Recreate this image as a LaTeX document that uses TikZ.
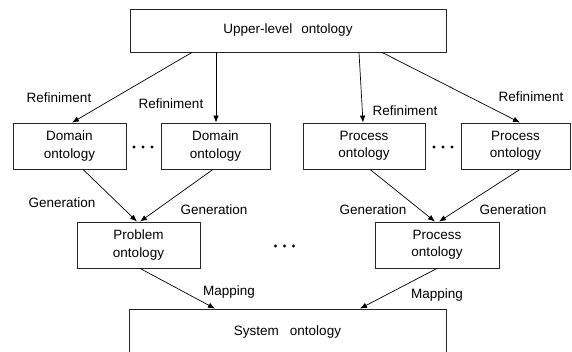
\documentclass[tikz,border=0pt]{standalone}
\usepackage{fontspec}
\setmainfont{Liberation Sans}
\usetikzlibrary{arrows.meta}
\begin{document}
\begin{tikzpicture}[x=1pt,y=-1pt,
  font=\fontsize{13.5}{17.5}\selectfont,
  box/.style={draw=black!85,line width=0.8pt,inner sep=0pt,align=center},
  conn/.style={line width=0.7pt,-{Latex[length=7pt,width=5.5pt]}},
  lbl/.style={inner sep=0pt}]
\useasboundingbox (0,0) rectangle (572,351);
\clip (0,0) rectangle (572,351);
\node[box,minimum width=316pt,minimum height=43pt] (up) at (288,30.5) {Upper-level\hspace{9pt}ontology};
\node[box,minimum width=113pt,minimum height=46pt] (d1) at (69.5,146) {Domain\\ontology};
\node[box,minimum width=109pt,minimum height=46pt] (d2) at (215.5,146) {Domain\\ontology};
\node[box,minimum width=122pt,minimum height=46pt] (p1) at (364,146) {Process\\ontology};
\node[box,minimum width=109pt,minimum height=46pt] (p2) at (515.5,146) {Process\\ontology};
\node[box,minimum width=123pt,minimum height=46pt] (prob) at (138.5,245) {Problem\\ontology};
\node[box,minimum width=124pt,minimum height=46pt] (proc) at (437,245) {Process\\ontology};
\node[box,minimum width=317pt,minimum height=46pt] (sys) at (287.5,332) {System\hspace{11pt}ontology};
\draw[conn] ([xshift=-96pt]up.south) -- ([xshift=2.5pt]d1.north);
\draw[conn] ([xshift=-72pt]up.south) -- ([xshift=0.5pt]d2.north);
\draw[conn] ([xshift=71pt]up.south) -- ([xshift=-1pt]p1.north);
\draw[conn] ([xshift=94pt]up.south) -- ([xshift=4.5pt]p2.north);
\draw[conn] ([xshift=13.5pt]d1.south) -- ([xshift=-1.5pt]prob.north);
\draw[conn] ([xshift=-2.5pt]d2.south) -- ([xshift=1.5pt]prob.north);
\draw[conn] ([xshift=6pt]p1.south) -- ([xshift=-2pt]proc.north);
\draw[conn] ([xshift=4.5pt]p2.south) -- ([xshift=2pt]proc.north);
\draw[conn] ([xshift=1.5pt]prob.south) -- ([xshift=-72.5pt]sys.north);
\draw[conn] (proc.south) -- ([xshift=72.5pt]sys.north);
\node[lbl] (r1) at (59,98) {Refiniment};
\node[lbl] (r2) at (171,104) {Refiniment};
\node[lbl] (r3) at (405,111) {Refiniment};
\node[lbl] (r4) at (531,97) {Refiniment};
\node[lbl] (g1) at (62,203) {Generation};
\node[lbl] (g2) at (214,210) {Generation};
\node[lbl] (g3) at (373,210) {Generation};
\node[lbl] (g4) at (513,210) {Generation};
\node[lbl] (m1) at (229,292) {Mapping};
\node[lbl] (m2) at (437,295) {Mapping};
\foreach \cx/\cy [count=\i] in {143/147,443/147,284.5/246}{
  \fill (\cx-9,\cy) circle (1.6pt) (\cx,\cy) circle (1.6pt) (\cx+9,\cy) circle (1.6pt);
}
\end{tikzpicture}
\end{document}
